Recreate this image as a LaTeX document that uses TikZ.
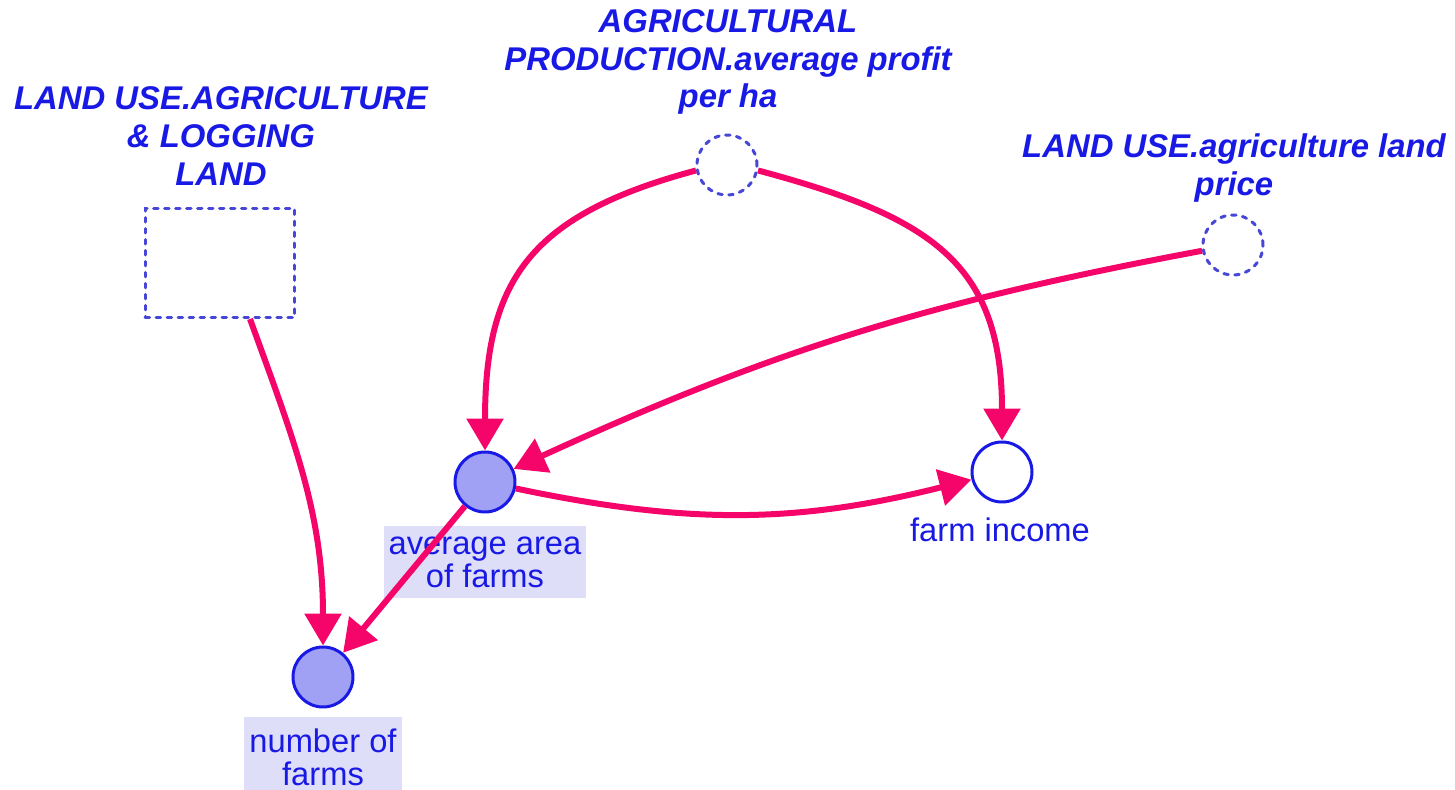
\documentclass[tikz,border=0pt]{standalone}
\usepackage{fontspec}
\setmainfont{Liberation Sans}
\usetikzlibrary{arrows.meta}
\definecolor{linkpink}{RGB}{245,5,105}
\definecolor{varblue}{RGB}{25,25,230}
\definecolor{varfill}{RGB}{160,160,245}
\definecolor{labelfill}{RGB}{222,222,248}
\definecolor{ghostblue}{RGB}{70,70,215}
\begin{document}
\begin{tikzpicture}[x=0.02cm, y=-0.02cm,
    link/.style={draw=linkpink, line width=0.12cm, -{Triangle[length=0.64cm, width=0.72cm]}},
    var/.style={circle, draw=varblue, line width=0.06cm, minimum size=1.2cm, inner sep=0pt},
    ghost/.style={draw=ghostblue, line width=0.06cm, dash pattern=on 0.09cm off 0.13cm, line cap=round},
    ghosttitle/.style={text=varblue, font=\fontsize{18.7}{21.5}\selectfont\bfseries\itshape, align=center},
    varlabel/.style={text=varblue, font=\fontsize{18.6}{18.8}\selectfont, align=center, inner xsep=0.1cm, inner ysep=0.22cm}]
        \useasboundingbox (0, 0) rectangle (1455, 790);

        % ghost variables from other sectors
        \node (land) at (220, 263) [ghost, minimum width=3cm, minimum height=2.18cm] {};
        \node (landT) at (221, 136) [ghosttitle] {LAND USE.AGRICULTURE\\\& LOGGING\\LAND};
        \node (profit) at (727, 165) [ghost, circle, minimum size=1.2cm] {};
        \node (profitT) at (728, 62) [ghosttitle] {AGRICULTURAL\\PRODUCTION.average profit\\per ha};
        \node (price) at (1233, 245) [ghost, circle, minimum size=1.2cm] {};
        \node (priceT) at (1234, 168) [ghosttitle] {LAND USE.agriculture land\\price};

        % local variables
        \node (avg) at (485, 482) [var, fill=varfill] {};
        \node (avgL) at (485, 562) [varlabel, fill=labelfill] {average area\\of farms};
        \node (farm) at (1002, 472) [var, fill=white] {};
        \node (farmL) at (1000, 530) [varlabel] {farm income};
        \node (number) at (323, 677) [var, fill=varfill] {};
        \node (numberL) at (323, 757) [varlabel, fill=labelfill] {number of\\farms};

        % links
        \draw [link] ([xshift=0.6cm]land.south) to [out=-70, in=90] (number);
        \draw [link] (profit.190) to [out=195, in=90, looseness=1.25] (avg);
        \draw [link] (profit.-10) to [out=-15, in=90, looseness=1.25] (farm);
        \draw [link] (price) to [bend right=7] (avg);
        \draw [link] (avg) to [bend right=13] (farm);
        \draw [link] (avg) -- (number);
\end{tikzpicture}
\end{document}
